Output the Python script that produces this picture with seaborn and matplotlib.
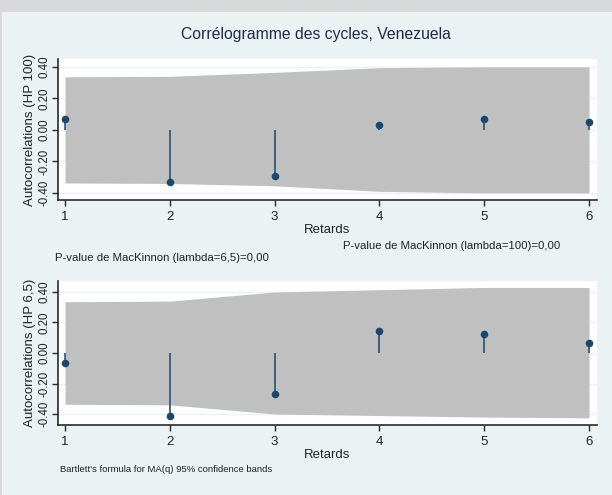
import numpy as np
import seaborn as sns
import matplotlib
matplotlib.use("Agg")
import matplotlib.pyplot as plt
import matplotlib.patches as mpatches

# donnees
retards = [1, 2, 3, 4, 5, 6]
ac_hp100 = [0.07, -0.33, -0.29, 0.03, 0.07, 0.05]
bande_hp100_haut = [0.337, 0.34, 0.365, 0.395, 0.40, 0.40]
bande_hp100_bas = [-0.337, -0.34, -0.355, -0.39, -0.40, -0.40]
ac_hp65 = [-0.066, -0.415, -0.267, 0.144, 0.122, 0.066]
bande_hp65_haut = [0.336, 0.34, 0.40, 0.415, 0.43, 0.43]
bande_hp65_bas = [-0.336, -0.34, -0.40, -0.41, -0.42, -0.425]
yticks = [-0.4, -0.2, 0.0, 0.2, 0.4]

sns.set_theme(style="white")
plt.rcParams['font.family'] = ['Liberation Sans', 'DejaVu Sans']

navy = '#1a476f'
fond = '#eaf2f3'
bande = '#c0c0c0'

W, H = 612, 495
fig = plt.figure(figsize=(W / 100, H / 100), dpi=100)
fig.patch.set_facecolor('#d9d9d9')
fig.add_artist(mpatches.Rectangle((2 / W, 0), 1, 1 - 12 / H, transform=fig.transFigure,
                                  facecolor=fond, edgecolor='none', zorder=-10))


def panneau(rect, valeurs, haut, bas, ylim, ylabel):
    ax = fig.add_axes(rect)
    ax.set_facecolor('white')
    ax.fill_between(retards, bas, haut, color=bande, linewidth=0, zorder=1)
    ax.vlines(retards, 0, valeurs, color=navy, linewidth=1.1, zorder=2)
    sns.scatterplot(x=retards, y=valeurs, ax=ax, color=navy, s=30, edgecolor=navy,
                    linewidth=0, zorder=3)
    ax.set_xlim(0.933, 6.076)
    ax.set_ylim(*ylim)
    ax.set_yticks(yticks)
    ax.set_yticklabels(['%.2f' % v for v in yticks], rotation=90, va='center', fontsize=8.3,
                       color='#222222')
    ax.set_xticks(retards)
    ax.set_xticklabels([str(r) for r in retards], fontsize=9.5, color='#222222')
    ax.yaxis.grid(True, color=fond, linewidth=1)
    ax.set_axisbelow(True)
    for s in ['top', 'right']:
        ax.spines[s].set_visible(False)
    for s in ['left', 'bottom']:
        ax.spines[s].set_color('#2a2a2a')
        ax.spines[s].set_linewidth(1.2)
    ax.tick_params(axis='both', which='both', direction='out', length=4, width=1,
                   color='#2a2a2a', left=True, bottom=True)
    ax.tick_params(axis='y', pad=1.5)
    ax.tick_params(axis='x', pad=4)
    ax.set_xlabel('Retards', fontsize=9.5, color='#222222', labelpad=1)
    ax.set_ylabel(ylabel, fontsize=9.5, color='#222222', labelpad=1.5)
    return ax


ax1 = panneau([58 / W, 1 - 200 / H, 539 / W, 141 / H], ac_hp100, bande_hp100_haut,
              bande_hp100_bas, (-0.445, 0.45), 'Autocorrelations (HP 100)')
ax2 = panneau([58 / W, 1 - 425 / H, 539 / W, 144 / H], ac_hp65, bande_hp65_haut,
              bande_hp65_bas, (-0.472, 0.472), 'Autocorrelations (HP 6,5)')

fig.text(316 / W, 1 - 35 / H, 'Corrélogramme des cycles, Venezuela', ha='center', va='center',
         fontsize=11.3, color='#1e2b4f')
fig.text(343 / W, 1 - 246 / H, 'P-value de MacKinnon (lambda=100)=0,00', ha='left',
         va='center', fontsize=8.2, color='#222222')
fig.text(55 / W, 1 - 258 / H, 'P-value de MacKinnon (lambda=6,5)=0,00', ha='left',
         va='center', fontsize=8.2, color='#222222')
fig.text(60 / W, 1 - 470 / H, "Bartlett's formula for MA(q) 95% confidence bands", ha='left',
         va='center', fontsize=6.8, color='#222222')

fig.savefig('out.png', dpi=100, facecolor=fig.get_facecolor())
